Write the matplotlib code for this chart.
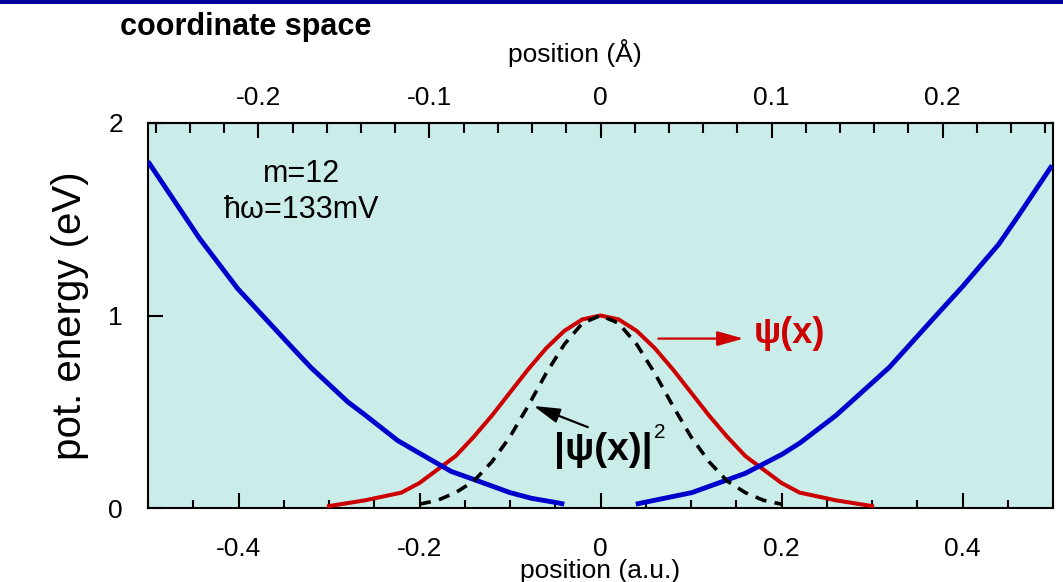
import matplotlib
matplotlib.use("Agg")
import matplotlib.pyplot as plt
from matplotlib.patches import Rectangle
from matplotlib.ticker import MultipleLocator

plt.rcParams["font.family"] = ["Liberation Sans", "DejaVu Sans"]

# 1 bohr in angstrom, for the top axis
BOHR = 0.529

# harmonic potential (eV) vs position (a.u.), drawn in two branches
pot_left_x = [-0.500, -0.443, -0.401, -0.342, -0.320, -0.279, -0.262, -0.224,
              -0.202, -0.165, -0.141, -0.100, -0.076, -0.051, -0.040]
pot_left_y = [1.80, 1.40, 1.14, 0.84, 0.73, 0.55, 0.49, 0.35,
              0.29, 0.19, 0.15, 0.08, 0.05, 0.03, 0.02]
pot_right_x = [0.039, 0.101, 0.160, 0.201, 0.221, 0.260, 0.319, 0.367,
               0.400, 0.440, 0.462, 0.499]
pot_right_y = [0.02, 0.08, 0.18, 0.28, 0.34, 0.48, 0.73, 0.98,
               1.15, 1.37, 1.52, 1.78]

# ground state wave function psi(x)
psi_x = [-0.30, -0.26, -0.22, -0.20, -0.18, -0.16, -0.14, -0.12, -0.10,
         -0.08, -0.06, -0.04, -0.02, 0.00, 0.02, 0.04, 0.06, 0.08, 0.10,
         0.12, 0.14, 0.16, 0.18, 0.20, 0.22, 0.26, 0.30]
psi_y = [0.01, 0.04, 0.08, 0.13, 0.20, 0.27, 0.37, 0.48, 0.60,
         0.72, 0.83, 0.92, 0.98, 1.00, 0.98, 0.92, 0.83, 0.72, 0.60,
         0.48, 0.37, 0.27, 0.20, 0.13, 0.08, 0.04, 0.01]

# probability density |psi(x)|^2
prob_x = [-0.20, -0.18, -0.16, -0.14, -0.12, -0.10, -0.08, -0.06, -0.04,
          -0.02, 0.00, 0.02, 0.04, 0.06, 0.08, 0.10, 0.12, 0.14, 0.16,
          0.18, 0.20]
prob_y = [0.02, 0.04, 0.08, 0.14, 0.24, 0.37, 0.53, 0.70, 0.85,
          0.96, 1.00, 0.96, 0.85, 0.70, 0.53, 0.37, 0.24, 0.14, 0.08,
          0.04, 0.02]

BG = "#cbedea"
BLUE = "#0000cc"
RED = "#cc0000"
ARROW = "-|>,head_length=1.6,head_width=0.45"

fig = plt.figure(figsize=(10.63, 5.82), dpi=100)
ax = fig.add_axes([148 / 1063, 1 - 508 / 582, 905 / 1063, 385 / 582])
ax.set_facecolor(BG)

ax.plot(psi_x, psi_y, color=RED, lw=2.9, solid_joinstyle="miter", zorder=3)
ax.plot(pot_left_x, pot_left_y, color=BLUE, lw=3.5, solid_capstyle="butt", zorder=4)
ax.plot(pot_right_x, pot_right_y, color=BLUE, lw=3.5, solid_capstyle="butt", zorder=4)
ax.plot(prob_x, prob_y, color="black", lw=2.6, ls=(0, (3.2, 2.3)), zorder=5)

ax.set_xlim(-0.5, 0.5)
ax.set_ylim(0, 2)

ax.xaxis.set_minor_locator(MultipleLocator(0.05))
ax.set_xticks([-0.4, -0.2, 0, 0.2, 0.4])
ax.set_xticklabels(["-0.4", "-0.2", "0", "0.2", "0.4"])
ax.set_yticks([0, 1, 2])
ax.set_yticklabels(["0", "1", "2"])
ax.tick_params(axis="x", which="major", direction="in", length=11, width=1.5,
               labelsize=19, pad=21, top=False)
ax.tick_params(axis="x", which="minor", direction="in", length=6, width=1.5, top=False)
ax.tick_params(axis="y", which="major", direction="in", length=11, width=1.5,
               labelsize=19, pad=18, right=False)
for s in ax.spines.values():
    s.set_linewidth(1.5)

# angstrom scale along the top
top = ax.secondary_xaxis("top", functions=(lambda x: x * BOHR, lambda x: x / BOHR))
top.xaxis.set_minor_locator(MultipleLocator(0.02))
top.set_xticks([-0.2, -0.1, 0, 0.1, 0.2])
top.set_xticklabels(["-0.2", "-0.1", "0", "0.1", "0.2"])
top.tick_params(which="major", direction="in", length=11, width=1.5, labelsize=19, pad=9)
top.tick_params(which="minor", direction="in", length=7, width=1.5)
top.spines["top"].set_linewidth(1.5)

ax.set_ylabel("pot. energy (eV)", fontsize=29, labelpad=14)
fig.text(600 / 1063, 1 - 578 / 582, "position (a.u.)", fontsize=19,
         ha="center", va="baseline")
fig.text(575 / 1063, 1 - 62 / 582, "position (Å)", fontsize=19,
         ha="center", va="baseline")
fig.text(120 / 1063, 1 - 35 / 582, "coordinate space", fontsize=22,
         fontweight="bold", ha="left", va="baseline")

ax.text(-0.33, 1.735, "m=12", fontsize=22, ha="center", va="center")
ax.text(-0.33, 1.55, "ħω=133mV", fontsize=22, ha="center", va="center")

ax.annotate("", xy=(0.158, 0.88), xytext=(0.064, 0.88),
            arrowprops=dict(arrowstyle=ARROW, color=RED, lw=1.6,
                            mutation_scale=10, shrinkA=0, shrinkB=0))
ax.text(0.169, 0.905, "ψ(x)", color=RED, fontsize=26, fontweight="bold",
        ha="left", va="center")

ax.annotate("", xy=(-0.074, 0.53), xytext=(-0.014, 0.42),
            arrowprops=dict(arrowstyle=ARROW, color="black", lw=1.6,
                            mutation_scale=10, shrinkA=0, shrinkB=0))
ax.text(-0.051, 0.30, "|ψ(x)|", color="black", fontsize=28,
        fontweight="bold", ha="left", va="center")
ax.text(0.059, 0.39, "2", color="black", fontsize=15,
        ha="left", va="center")

# dark band across the top edge
fig.add_artist(Rectangle((0, 1 - 4 / 582), 1, 4 / 582, transform=fig.transFigure,
                         facecolor="#000099", edgecolor="none"))

fig.savefig("out.png", dpi=100)
